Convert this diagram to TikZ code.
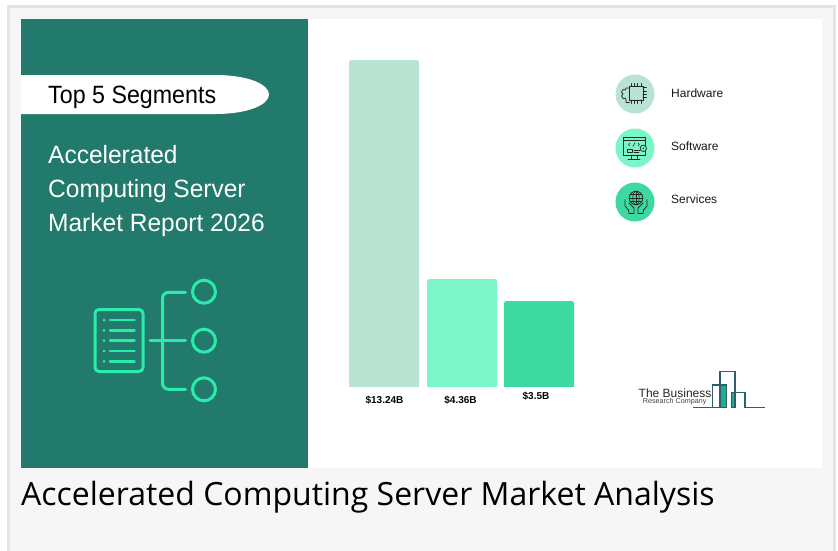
\documentclass[tikz,border=0pt]{standalone}
\usepackage{fontspec}
\setmainfont{Open Sans}
\newfontfamily\rob{Liberation Sans}
\newfontfamily\robn[FakeStretch=0.98]{Liberation Sans}
\newfontfamily\robt[FakeStretch=0.93]{Liberation Sans}
\definecolor{frameg}{HTML}{E4E4E4}
\definecolor{panelg}{HTML}{F6F6F6}
\definecolor{teal}{HTML}{217A6B}
\definecolor{barA}{HTML}{B9E3D3}
\definecolor{barB}{HTML}{7CF5C9}
\definecolor{barC}{HTML}{3DD9A1}
\definecolor{mint}{HTML}{2BEBA9}
\definecolor{logo}{HTML}{2F5D70}
\definecolor{logog}{HTML}{1FAF85}
\tikzset{
  barbox/.style={rounded corners=2.5pt},
  vlabel/.style={font=\rob\bfseries\fontsize{10}{12}\selectfont,text=black,inner sep=0pt},
  leg/.style={font=\rob\fontsize{12}{14}\selectfont,text=black!90,anchor=west,inner sep=0pt},
  disc/.style={circle,minimum size=39pt,inner sep=0pt},
  ico/.style={draw=black!85,line width=.75pt,line cap=round,line join=round},
  mintl/.style={draw=mint,line width=3pt,line cap=round,line join=round},
  ring/.style={circle,draw=mint,line width=3pt,minimum size=23pt,inner sep=0pt},
  head/.style={font=\robn\fontsize{25}{29}\selectfont,text=white,anchor=base west,inner sep=0pt},
  logol/.style={draw=logo,line width=1.3pt,line join=miter}
}
\begin{document}
\begin{tikzpicture}[x=1pt,y=-1pt]
\useasboundingbox (0,0) rectangle (838,550);
\fill[white] (0,0) rectangle (838,550);
\fill[frameg] (7,5) rectangle (836,553);
\fill[panelg] (10,8) rectangle (833,553);
\fill[white] (21,19) rectangle (822,468);
\fill[teal] (21,19) rectangle (308,468);
% banner
\fill[white] (21,75) -- (215,75) .. controls (250,75) and (269,85) .. (269,94.5) .. controls (269,104) and (250,114) .. (215,114) -- (21,114) -- cycle;
\node[font=\robt\fontsize{25}{29}\selectfont,text=black,anchor=base west,inner sep=0pt] (tops) at (48,103.2) {Top 5 Segments};
\node[head] (h1) at (48,163.3) {Accelerated};
\node[head] (h2) at (48,197.3) {Computing Server};
\node[head] (h3) at (48,231.3) {Market Report 2026};
% list icon
\draw[mintl,rounded corners=4pt] (95,309.5) rectangle (143,371.5);
\foreach \y in {320,330.3,340.7,351,361.3}{
  \fill[mint] (104,\y) circle (1.5pt);
  \draw[mintl,line width=2.7pt] (110,\y) -- (134.5,\y);
}
\draw[mintl] (150,340.7) -- (185.5,340.7);
\draw[mintl,rounded corners=6pt] (185.5,292.3) -- (162.5,292.3) -- (162.5,389.3) -- (185.5,389.3);
\node[ring] (c1) at (204,291.7) {};
\node[ring] (c2) at (204,340.7) {};
\node[ring] (c3) at (204,389.3) {};
% bars
\fill[barA,barbox] (349,60) rectangle (419,387);
\fill[barB,barbox] (427,279) rectangle (497,387);
\fill[barC,barbox] (504,301) rectangle (574,387);
\fill[barA] (349,380) rectangle (419,387);
\fill[barB] (427,380) rectangle (497,387);
\fill[barC] (504,380) rectangle (574,387);
\node[vlabel] (v1) at (384.5,400) {\$13.24B};
\node[vlabel] (v2) at (460.5,400) {\$4.36B};
\node[vlabel] (v3) at (536,396) {\$3.5B};
% legend
\node[disc,fill=barA] (d1) at (635,94) {};
\node[disc,fill=barB] (d2) at (635,148) {};
\node[disc,fill=barC] (d3) at (635,202) {};
\node[leg] (l1) at (671,93.5) {Hardware};
\node[leg] (l2) at (671,146.5) {Software};
\node[leg] (l3) at (671,199.5) {Services};
% chip icon
\draw[ico,line width=1pt] (629.5,86) rectangle (643,100);
\foreach \t in {0,1,2,3}{
  \draw[ico] (631+\t*3.4,86) -- (631+\t*3.4,83.5);
  \draw[ico] (631+\t*3.4,100) -- (631+\t*3.4,103.5);
  \draw[ico] (643,87.5+\t*3.4) -- (646.5,87.5+\t*3.4);
}
\draw[ico] (629.5,88) -- (626,88) -- (625.5,90) -- (623,89.5) -- (621.5,92) -- (623,94) -- (621.5,96) -- (623,98.5) -- (625.5,98) -- (626,100) -- (626,102.5) -- (629.5,102.5);
% software icon
\draw[ico] (623.5,137.5) rectangle (645,155);
\draw[ico] (623.5,140.5) -- (645,140.5);
\draw[ico,line width=.6pt] (630,143) -- (628.5,144.5) -- (630,146) (638,143) -- (639.5,144.5) -- (638,146) (635,142.5) -- (633,146.5);
\draw[ico,line width=.6pt] (627,149) rectangle (632,152) (634,150) -- (640,150) (634,152.5) -- (639,152.5);
\draw[ico] (631,155) -- (631,158.5) (637,155) -- (637,158.5) (628,159) -- (640,159);
\draw[ico,fill=barB] (643.3,148.3) circle (3.2pt);
\fill[black!85] (643.3,148.3) circle (.9pt);
% services icon
\draw[ico] (636,198) circle (6.8pt);
\draw[ico,line width=.6pt] (629.2,198) -- (642.8,198) (630,194.5) -- (642,194.5) (630,201.5) -- (642,201.5) (636,191.2) -- (636,204.8);
\draw[ico,line width=.6pt] (636,198) ellipse (3.2pt and 6.8pt);
\draw[ico] (625,199.5) -- (625,206) -- (628.5,210) -- (629,213.5) -- (634,213.5) -- (634,208) -- (629,203);
\draw[ico] (647,199.5) -- (647,206) -- (643.5,210) -- (643,213.5) -- (638,213.5) -- (638,208) -- (643,203);
% logo
\fill[logog] (720,385) rectangle (726.7,407);
\fill[logog] (731.7,393) rectangle (735,407);
\draw[logol] (693,407.3) -- (726.7,407.3) -- (726.7,385) -- (712.7,385) -- (712.7,407.3);
\draw[logol] (720,407.3) -- (720,371.7) -- (735,371.7) -- (735,407.3) -- (731.7,407.3) -- (731.7,392.7) -- (745,392.7) -- (745,407.3) -- (765,407.3);
\node[font=\rob\fontsize{12}{14}\selectfont,text=black!85,inner sep=0pt,anchor=west] (lg1) at (638.5,393) {The Business};
\node[font=\rob\fontsize{7.2}{8}\selectfont,text=black!75,inner sep=0pt,anchor=west] (lg2) at (642.7,402) {Research Company};
% caption
\node[font=\fontsize{32}{36}\selectfont,text=black,anchor=base west,inner sep=0pt] (cap) at (21,505) {Accelerated Computing Server Market Analysis};
\end{tikzpicture}
\end{document}
